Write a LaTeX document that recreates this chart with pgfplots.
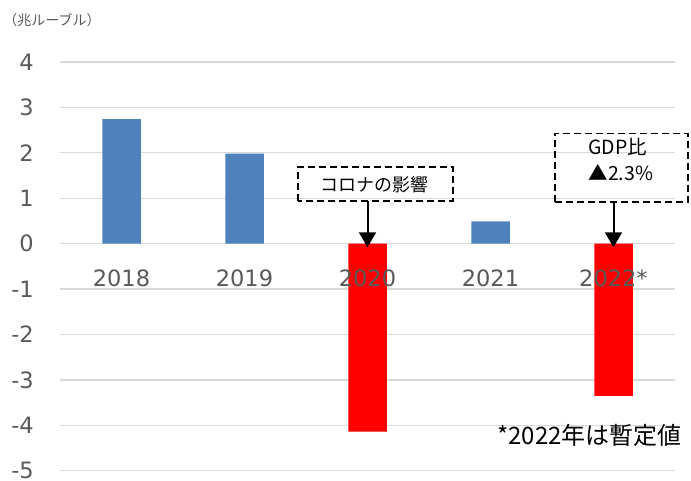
\documentclass[border=0pt]{standalone}
\usepackage{pgfplots}
\pgfplotsset{compat=1.18}
\usetikzlibrary{arrows.meta}
\usepackage{fontspec}
\setmainfont{DejaVu Sans}
\newfontfamily\jp{Noto Sans CJK JP}
\definecolor{barblue}{RGB}{79,129,189}
\definecolor{barred}{RGB}{255,0,0}
\definecolor{gridgray}{RGB}{217,217,217}
\definecolor{txtgray}{RGB}{89,89,89}
\begin{document}
\begin{tikzpicture}
\path[use as bounding box] (0,0) rectangle (691pt,480pt);
\node[anchor=center, text=txtgray, inner sep=0pt] at (52pt,460pt) {\jp\fontsize{14}{16}\selectfont （兆ルーブル）};
\begin{axis}[
  at={(60pt,9.3pt)}, anchor=south west,
  scale only axis, width=615pt, height=408.7pt,
  xmin=-0.5, xmax=4.5, ymin=-5, ymax=4,
  axis line style={draw=none},
  major tick length=0pt,
  xtick=\empty,
  ytick={-5,-4,-3,-2,-1,0,1,2,3,4},
  yticklabels={-5,-4,-3,-2,-1,0,1,2,3,4},
  ymajorgrids, grid style={gridgray, line width=1.3pt},
  yticklabel style={anchor=east, inner sep=0pt, xshift=-26pt, text=txtgray, font=\fontsize{22.5}{27}\selectfont},
  ybar, bar width=38.5pt, bar shift=0pt,
  clip=false,
]
\addplot[fill=barblue, draw=none] coordinates {(0,2.74) (1,1.98) (3,0.49)};
\addplot[fill=barred, draw=none] coordinates {(2,-4.14) (4,-3.35)};
% category labels (drawn above the bars, as in the reference)
\foreach \i/\lab in {0/2018,1/2019,2/2020,3/2021,4/2022*}{
  \edef\tmp{\noexpand\node[text=txtgray, inner sep=0pt, font=\noexpand\fontsize{22.5}{27}\noexpand\selectfont] at (axis cs:\i,0) [yshift=-35pt] {\lab};}
  \tmp
}
% annotation boxes
\draw[black, line width=1.5pt, dash pattern=on 7pt off 4pt] (axis cs:1.435,0.94) rectangle (axis cs:2.695,1.69);
\node[inner sep=0pt] at (axis cs:2.06,1.31) {\jp\fontsize{18}{21}\selectfont コロナの影響};
\draw[black, line width=2pt, -{Triangle[width=17pt,length=15pt]}] (axis cs:2,0.94) -- (axis cs:2,-0.08);
\draw[black, line width=1.5pt, dash pattern=on 7pt off 4pt] (axis cs:3.524,0.92) rectangle (axis cs:4.606,2.43);
\node[inner sep=0pt] at (axis cs:4.035,2.14) {\jp\fontsize{19.5}{22}\selectfont GDP比};
\node[inner sep=0pt] at (axis cs:4.06,1.566) {\jp\fontsize{19.5}{22}\selectfont ▲2.3\%};
\draw[black, line width=2pt, -{Triangle[width=17pt,length=15pt]}] (axis cs:4,0.92) -- (axis cs:4,-0.08);
\node[inner sep=0pt] at (axis cs:3.805,-4.216) {\jp\fontsize{24}{28}\selectfont *2022年は暫定値};
\end{axis}
\end{tikzpicture}
\end{document}
